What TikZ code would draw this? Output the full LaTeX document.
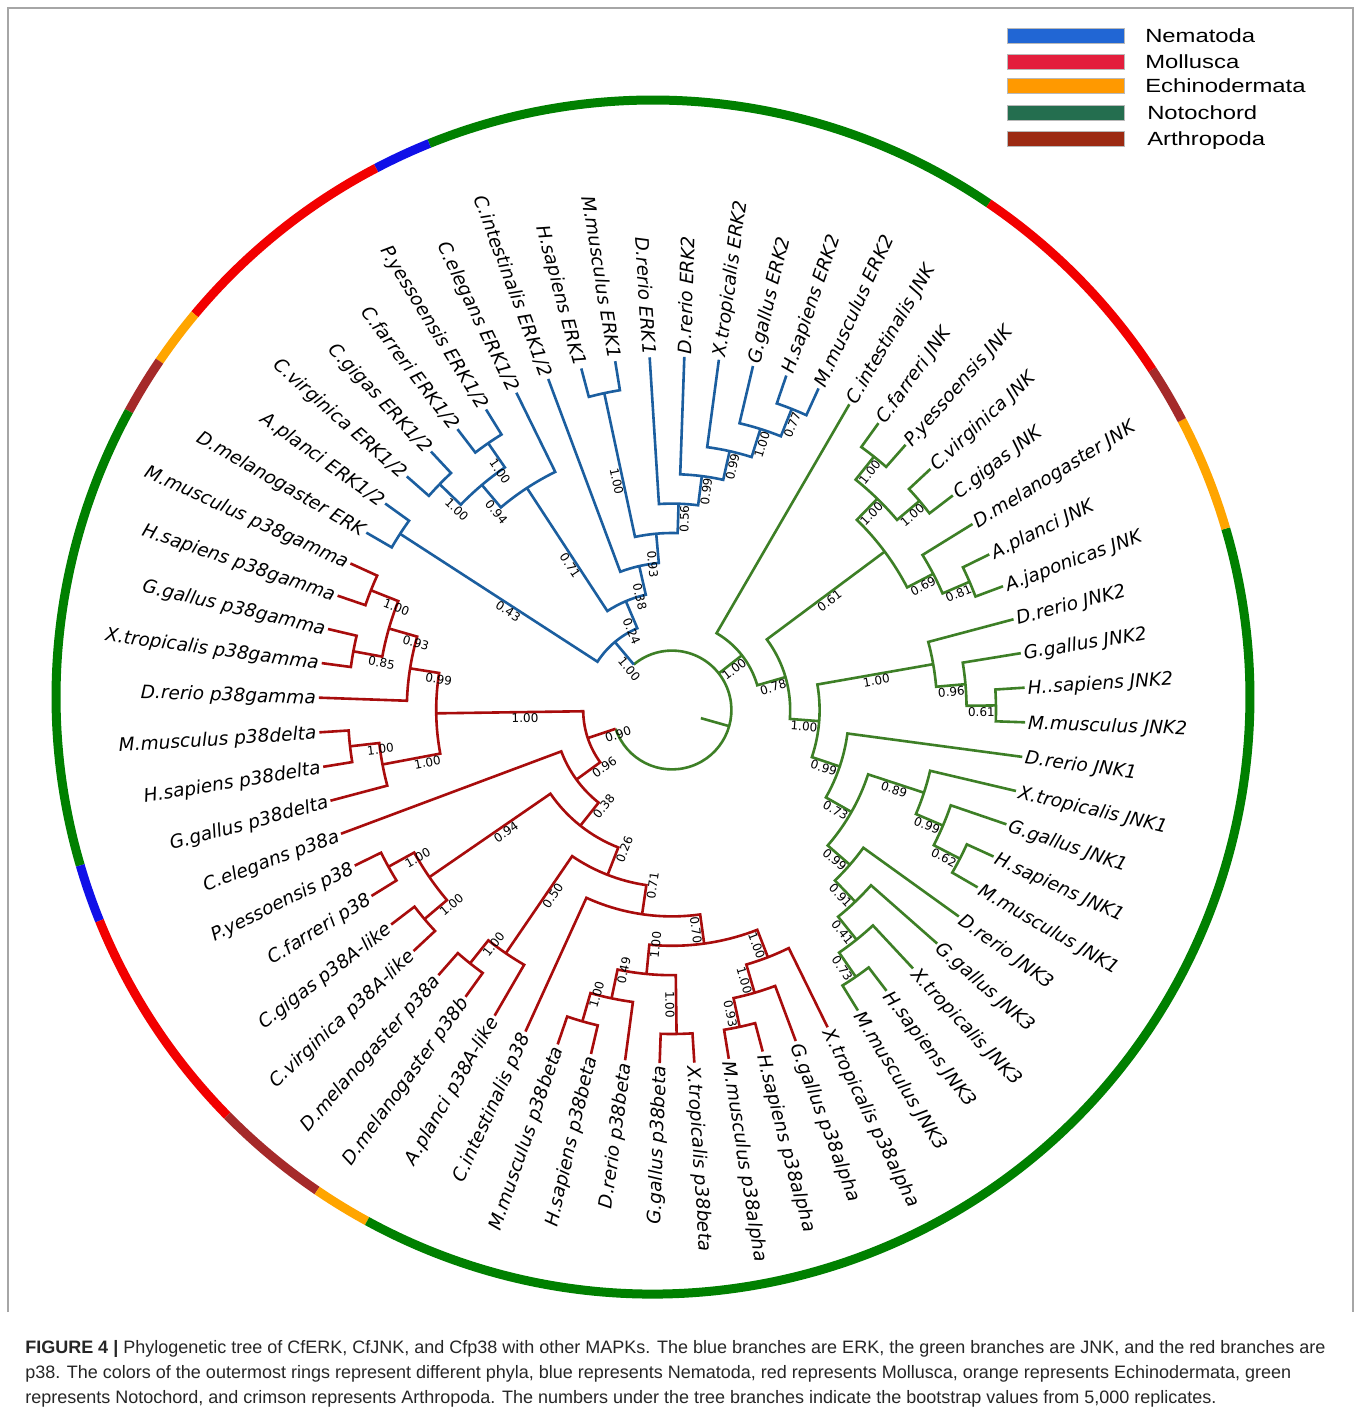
\documentclass[tikz,border=0pt]{standalone}
\usepackage{fontspec}
\setmainfont{DejaVu Sans}
\newfontfamily\legfont[FakeStretch=1.25]{Liberation Sans}
\newfontfamily\capfont{Liberation Sans}
\definecolor{cE}{HTML}{1B5E9F}
\definecolor{cG}{HTML}{3D7F26}
\definecolor{cP}{HTML}{A80C0C}
\definecolor{rBlue}{HTML}{1010E8}
\definecolor{rRed}{HTML}{F20000}
\definecolor{rOrange}{HTML}{FFA500}
\definecolor{rGreen}{HTML}{008000}
\definecolor{rBrown}{HTML}{A52A2A}
\definecolor{lNema}{HTML}{2166D4}
\definecolor{lMoll}{HTML}{E31E3C}
\definecolor{lEchi}{HTML}{FF9900}
\definecolor{lNoto}{HTML}{246E4F}
\definecolor{lArth}{HTML}{9C2A12}
\tikzset{
  branch/.style={line width=1.95pt, line join=miter},
  leaflab/.style={font=\fontsize{13.9}{16}\selectfont\itshape, inner sep=2pt, text height=10pt, text depth=0pt},
  bslab/.style={font=\fontsize{9}{10}\selectfont, inner sep=1.2pt, text height=6.6pt, text depth=0pt},
  ringseg/.style={line width=6.75pt},
  legbar/.style={draw=gray!55, line width=0.4pt, minimum width=87.75pt, minimum height=11.25pt, inner sep=0pt},
  legtext/.style={font=\legfont\fontsize{14.3}{16}\selectfont, inner sep=0pt},
  captext/.style={font=\capfont\fontsize{13.5}{16}\selectfont, inner sep=0pt, text=black!85},
  framel/.style={draw=gray!70, line width=1.1pt}
}
\newcommand\setv[3]{\expandafter\xdef\csname tv#1@#2\endcsname{#3}}
\newcommand\getv[2]{\csname tv#1@#2\endcsname}
\newcommand\leaf[4]{%
  \pgfmathsetmacro\lfa{-2+5.625*(#2)}%
  \setv{A}{#1}{\lfa}\setv{R}{#1}{353.4}\setv{B}{#1}{}%
  \coordinate (#1) at (\lfa:353.4);%
  \pgfmathtruncatemacro\lfs{cos(\lfa)<0 ? 1 : 0}%
  \ifnum\lfs=1
    \node[leaflab, anchor=east, rotate=\lfa+180] (#1-lab) at (#1) {#4};%
  \else
    \node[leaflab, anchor=west, rotate=\lfa] (#1-lab) at (#1) {#4};%
  \fi}
\newcommand\bsfor[4]{%
  \edef\bst{\getv{B}{#1}}%
  \ifx\bst\empty\else
    \pgfmathsetmacro\bsm{(#3+#4)/2}%
    \pgfmathtruncatemacro\bss{cos(#2)<0 ? 1 : 0}%
    \ifnum\bss=1
      \node[bslab, anchor=north west, rotate=#2+180] (#1-bs) at (#2:\bsm) {\bst};%
    \else
      \node[bslab, anchor=north, rotate=#2] (#1-bs) at (#2:\bsm) {\bst};%
    \fi
  \fi}
\newcommand\inode[6]{%
  \pgfmathsetmacro\nda{\getv{A}{#2}}%
  \pgfmathsetmacro\ndb{\getv{A}{#3}}%
  \pgfmathsetmacro\ndra{\getv{R}{#2}}%
  \pgfmathsetmacro\ndrb{\getv{R}{#3}}%
  \pgfmathsetmacro\ndr{30+29.4*(#4)}%
  \draw[branch,#6] (#2) -- (\nda:\ndr) arc[start angle=\nda,end angle=\ndb,radius=\ndr] -- (#3);%
  \bsfor{#2}{\nda}{\ndr}{\ndra}%
  \bsfor{#3}{\ndb}{\ndr}{\ndrb}%
  \pgfmathsetmacro\ndm{(\nda+\ndb)/2}%
  \setv{A}{#1}{\ndm}\setv{R}{#1}{\ndr}\setv{B}{#1}{#5}%
  \coordinate (#1) at (\ndm:\ndr);}
\newcommand\rseg[3]{%
  \pgfmathsetmacro\rsa{-3.3+(#2+0.5)*5.625}%
  \pgfmathsetmacro\rsb{-3.3+(#3+0.5)*5.625}%
  \draw[ringseg,#1] ([shift={(\rsa:597)}]-19,13) arc[start angle=\rsa,end angle=\rsb,radius=597];}
\begin{document}
\begin{tikzpicture}[x=0.75pt,y=0.75pt]
\useasboundingbox (-672,-703) rectangle (686,710);
\fill[white] (-672,-703) rectangle (686,710);
% frame
\draw[framel] (-664,-602) -- (-664,702) -- (681,702) -- (681,-602);
% outer ring
\rseg{rGreen}{10}{20}
\rseg{rBlue}{20}{21}
\rseg{rRed}{21}{25}
\rseg{rOrange}{25}{26}
\rseg{rBrown}{26}{27}
\rseg{rGreen}{27}{35}
\rseg{rBlue}{35}{36}
\rseg{rRed}{36}{40}
\rseg{rBrown}{40}{42}
\rseg{rOrange}{42}{43}
\rseg{rGreen}{43}{67}
\rseg{rOrange}{3}{5}
\rseg{rBrown}{5}{6}
\rseg{rRed}{6}{10}
% leaves
\leaf{L0}{0}{cG}{M.musculus JNK2}
\leaf{L1}{1}{cG}{H..sapiens JNK2}
\leaf{L2}{2}{cG}{G.gallus JNK2}
\leaf{L3}{3}{cG}{D.rerio JNK2}
\leaf{L4}{4}{cG}{A.japonicas JNK}
\leaf{L5}{5}{cG}{A.planci JNK}
\leaf{L6}{6}{cG}{D.melanogaster JNK}
\leaf{L7}{7}{cG}{C.gigas JNK}
\leaf{L8}{8}{cG}{C.virginica JNK}
\leaf{L9}{9}{cG}{P.yessoensis JNK}
\leaf{L10}{10}{cG}{C.farreri JNK}
\leaf{L11}{11}{cG}{C.intestinalis JNK}
\leaf{L12}{12}{cE}{M.musculus ERK2}
\leaf{L13}{13}{cE}{H.sapiens ERK2}
\leaf{L14}{14}{cE}{G.gallus ERK2}
\leaf{L15}{15}{cE}{X.tropicalis ERK2}
\leaf{L16}{16}{cE}{D.rerio ERK2}
\leaf{L17}{17}{cE}{D.rerio ERK1}
\leaf{L18}{18}{cE}{M.musculus ERK1}
\leaf{L19}{19}{cE}{H.sapiens ERK1}
\leaf{L20}{20}{cE}{C.intestinalis ERK1/2}
\leaf{L21}{21}{cE}{C.elegans ERK1/2}
\leaf{L22}{22}{cE}{P.yessoensis ERK1/2}
\leaf{L23}{23}{cE}{C.farreri ERK1/2}
\leaf{L24}{24}{cE}{C.gigas ERK1/2}
\leaf{L25}{25}{cE}{C.virginica ERK1/2}
\leaf{L26}{26}{cE}{A.planci ERK1/2}
\leaf{L27}{27}{cE}{D.melanogaster ERK}
\leaf{L28}{28}{cP}{M.musculus p38gamma}
\leaf{L29}{29}{cP}{H.sapiens p38gamma}
\leaf{L30}{30}{cP}{G.gallus p38gamma}
\leaf{L31}{31}{cP}{X.tropicalis p38gamma}
\leaf{L32}{32}{cP}{D.rerio p38gamma}
\leaf{L33}{33}{cP}{M.musculus p38delta}
\leaf{L34}{34}{cP}{H.sapiens p38delta}
\leaf{L35}{35}{cP}{G.gallus p38delta}
\leaf{L36}{36}{cP}{C.elegans p38a}
\leaf{L37}{37}{cP}{P.yessoensis p38}
\leaf{L38}{38}{cP}{C.farreri p38}
\leaf{L39}{39}{cP}{C.gigas p38A-like}
\leaf{L40}{40}{cP}{C.virginica p38A-like}
\leaf{L41}{41}{cP}{D.melanogaster p38a}
\leaf{L42}{42}{cP}{D.melanogaster p38b}
\leaf{L43}{43}{cP}{A.planci p38A-like}
\leaf{L44}{44}{cP}{C.intestinalis p38}
\leaf{L45}{45}{cP}{M.musculus p38beta}
\leaf{L46}{46}{cP}{H.sapiens p38beta}
\leaf{L47}{47}{cP}{D.rerio p38beta}
\leaf{L48}{48}{cP}{G.gallus p38beta}
\leaf{L49}{49}{cP}{X.tropicalis p38beta}
\leaf{L50}{50}{cP}{M.musculus p38alpha}
\leaf{L51}{51}{cP}{H.sapiens p38alpha}
\leaf{L52}{52}{cP}{G.gallus p38alpha}
\leaf{L53}{53}{cP}{X.tropicalis p38alpha}
\leaf{L54}{-10}{cG}{M.musculus JNK3}
\leaf{L55}{-9}{cG}{H.sapiens JNK3}
\leaf{L56}{-8}{cG}{X.tropicalis JNK3}
\leaf{L57}{-7}{cG}{G.gallus JNK3}
\leaf{L58}{-6}{cG}{D.rerio JNK3}
\leaf{L59}{-5}{cG}{M.musculus JNK1}
\leaf{L60}{-4}{cG}{H.sapiens JNK1}
\leaf{L61}{-3}{cG}{G.gallus JNK1}
\leaf{L62}{-2}{cG}{X.tropicalis JNK1}
\leaf{L63}{-1}{cG}{D.rerio JNK1}
% ERK clade
\inode{EMH}{L13}{L12}{10}{0.77}{cE}
\inode{EG}{L14}{EMH}{9}{1.00}{cE}
\inode{EX}{L15}{EG}{8}{0.99}{cE}
\inode{ED2}{L16}{EX}{7}{0.99}{cE}
\inode{ED1}{L17}{ED2}{6}{0.56}{cE}
\inode{EMH1}{L19}{L18}{10}{1.00}{cE}
\inode{EV}{EMH1}{ED1}{5}{0.93}{cE}
\inode{EW}{L20}{EV}{4}{0.38}{cE}
\inode{EPC}{L23}{L22}{10}{1.00}{cE}
\inode{ECC}{L25}{L24}{10}{1.00}{cE}
\inode{EBiv}{ECC}{EPC}{9}{0.94}{cE}
\inode{Einv}{EBiv}{L21}{8}{0.71}{cE}
\inode{EX2}{Einv}{EW}{3}{0.24}{cE}
\inode{EDm}{L27}{L26}{10}{0.43}{cE}
\inode{Eroot}{EDm}{EX2}{2}{1.00}{cE}
% JNK clade
\inode{GHM}{L1}{L0}{10}{0.61}{cG}
\inode{GGHM}{L2}{GHM}{9}{0.96}{cG}
\inode{G5}{L3}{GGHM}{8}{1.00}{cG}
\inode{GHM1}{L60}{L59}{10}{0.62}{cG}
\inode{GGHM1}{L61}{GHM1}{9}{0.99}{cG}
\inode{GJ1}{L62}{GGHM1}{8}{0.89}{cG}
\inode{Gz}{L55}{L54}{10}{0.73}{cG}
\inode{Gy}{L56}{Gz}{9}{0.41}{cG}
\inode{Gx}{L57}{Gy}{8}{0.91}{cG}
\inode{GJ3}{L58}{Gx}{7}{0.99}{cG}
\inode{G7}{GJ1}{GJ3}{6}{0.73}{cG}
\inode{G6}{L63}{G7}{5}{0.99}{cG}
\inode{G4}{G5}{G6}{4}{1.00}{cG}
\inode{GAA}{L5}{L4}{10}{0.81}{cG}
\inode{GDA}{L6}{GAA}{9}{0.69}{cG}
\inode{GCC}{L8}{L7}{10}{1.00}{cG}
\inode{GCP}{L10}{L9}{10}{1.00}{cG}
\inode{Gmoll}{GCP}{GCC}{9}{1.00}{cG}
\inode{G3}{Gmoll}{GDA}{8}{0.61}{cG}
\inode{G2}{G3}{G4}{3}{0.78}{cG}
\inode{G1}{L11}{G2}{2}{1.00}{cG}
% p38 clade
\inode{PMH}{L28}{L29}{10}{1.00}{cP}
\inode{PGX}{L30}{L31}{10}{0.85}{cP}
\inode{Pgf}{PMH}{PGX}{9}{0.93}{cP}
\inode{Pgam}{Pgf}{L32}{8}{0.99}{cP}
\inode{PMHd}{L33}{L34}{10}{1.00}{cP}
\inode{Pdel}{PMHd}{L35}{9}{1.00}{cP}
\inode{Pgd}{Pgam}{Pdel}{7}{1.00}{cP}
\inode{PPC}{L37}{L38}{10}{1.00}{cP}
\inode{PCC}{L39}{L40}{10}{1.00}{cP}
\inode{Pinv}{PPC}{PCC}{9}{0.94}{cP}
\inode{PDm}{L41}{L42}{10}{1.00}{cP}
\inode{Pd}{PDm}{L43}{9}{0.50}{cP}
\inode{PMHb}{L45}{L46}{10}{1.00}{cP}
\inode{Pbt}{PMHb}{L47}{9}{0.49}{cP}
\inode{PGXb}{L48}{L49}{10}{1.00}{cP}
\inode{Pbeta}{Pbt}{PGXb}{8}{1.00}{cP}
\inode{PMHa}{L50}{L51}{10}{0.93}{cP}
\inode{Pat}{PMHa}{L52}{9}{1.00}{cP}
\inode{Palpha}{Pat}{L53}{8}{1.00}{cP}
\inode{Pf}{Pbeta}{Palpha}{7}{0.70}{cP}
\inode{Pe}{L44}{Pf}{6}{0.71}{cP}
\inode{Pc}{Pd}{Pe}{5}{0.26}{cP}
\inode{Pb}{Pinv}{Pc}{4}{0.38}{cP}
\inode{Pa}{L36}{Pb}{3}{0.96}{cP}
\inode{Proot}{Pgd}{Pa}{2}{0.90}{cP}
% root
\pgfmathsetmacro\aP{\getv{A}{Proot}-360}
\pgfmathsetmacro\aE{\getv{A}{Eroot}}
\pgfmathsetmacro\aG{\getv{A}{G1}}
\pgfmathsetmacro\aM{(\aP+\aE)/2}
\coordinate (root) at (\aM:59.4);
\coordinate (rootstub) at (\aM:30);
\draw[branch,cG] (\aP:59.4) arc[start angle=\aP,end angle=\aE,radius=59.4];
\draw[branch,cP] (\aP:59.4) -- (Proot);
\draw[branch,cE] (\aE:59.4) -- (Eroot);
\draw[branch,cG] (\aG:59.4) -- (G1);
\draw[branch,cG] (rootstub) -- (root);
\bsfor{Proot}{\aP}{59.4}{88.8}
\bsfor{Eroot}{\aE}{59.4}{88.8}
\bsfor{G1}{\aG}{59.4}{88.8}
% legend
\node[legbar, fill=lNema] (lb1) at (393.5,674.5) {};
\node[legbar, fill=lMoll] (lb2) at (393.5,648.5) {};
\node[legbar, fill=lEchi] (lb3) at (393.5,624) {};
\node[legbar, fill=lNoto] (lb4) at (393.5,597.5) {};
\node[legbar, fill=lArth] (lb5) at (393.5,571.5) {};
\node[legtext, anchor=base west] (lt1) at (473,667.5) {Nematoda};
\node[legtext, anchor=base west] (lt2) at (473,641.5) {Mollusca};
\node[legtext, anchor=base west] (lt3) at (473,617) {Echinodermata};
\node[legtext, anchor=base west] (lt4) at (475,590.5) {Notochord};
\node[legtext, anchor=base west] (lt5) at (475,564.5) {Arthropoda};
% caption
\node[captext, anchor=base west] (cap1) at (-647,-643) {\textbf{FIGURE 4 |} Phylogenetic tree of CfERK, CfJNK, and Cfp38 with other MAPKs. The blue branches are ERK, the green branches are JNK, and the red branches are};
\node[captext, anchor=base west] (cap2) at (-647,-668) {p38. The colors of the outermost rings represent different phyla, blue represents Nematoda, red represents Mollusca, orange represents Echinodermata, green};
\node[captext, anchor=base west] (cap3) at (-647,-693) {represents Notochord, and crimson represents Arthropoda. The numbers under the tree branches indicate the bootstrap values from 5,000 replicates.};
\end{tikzpicture}
\end{document}
